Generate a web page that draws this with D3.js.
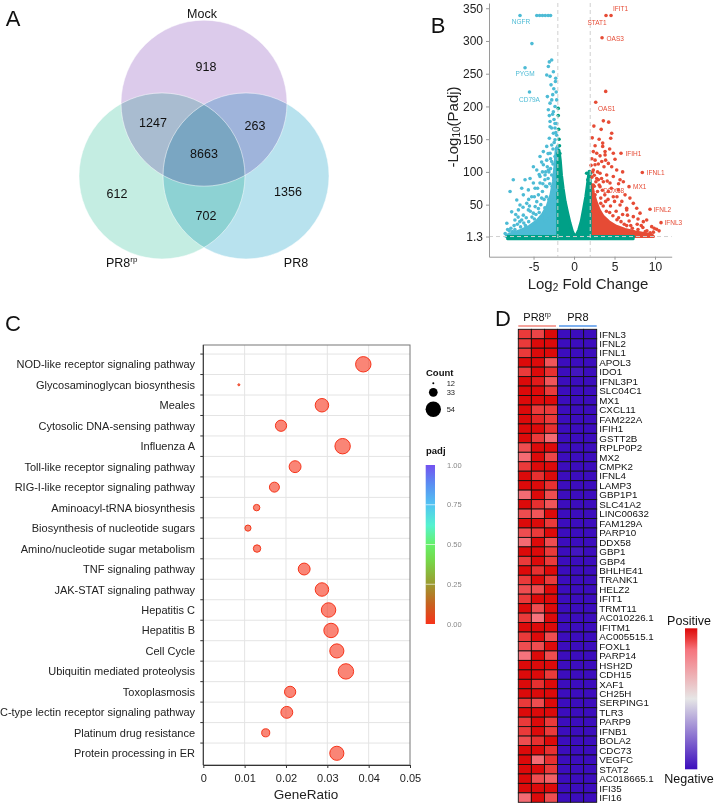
<!DOCTYPE html>
<html lang="en">
<head>
<meta charset="UTF-8">
<title>PR8 vs PR8rp transcriptome</title>
<script src="https://d3js.org/d3.v7.min.js"></script>
<style>
  body { margin: 0; background: #fff; }
  svg { display: block; font-family: "Liberation Sans", Arial, sans-serif; }
</style>
</head>
<body>
<svg width="720" height="804"></svg>
<script>
// ---------- data ----------
// A: Venn
const vennSets = ["Mock", "PR8rp", "PR8"];
const vennRegions = ["Mock", "Mock&PR8rp", "Mock&PR8", "all", "PR8rp", "PR8rp&PR8", "PR8"];
const vennCounts = [918, 1247, 263, 8663, 612, 702, 1356];

// B: volcano (log2FC, -log10 padj)
const volcanoXTicks = [-5, 0, 5, 10];
const volcanoYTicks = [1.3, 50, 100, 150, 200, 250, 300, 350];
const labelledGenes = [
  ["NGFR", -6.67, 339, "down"], ["PYGM", -6.05, 259, "down"], ["CD79A", -5.5, 222, "down"],
  ["STAT1", 3.95, 339, "up"], ["IFIT1", 4.57, 339, "up"], ["OAS3", 3.46, 305, "up"],
  ["OAS1", 2.68, 206.5, "up"], ["IFIH1", 5.8, 128.6, "up"], ["IFNL1", 8.43, 99, "up"],
  ["MX1", 6.79, 77.5, "up"], ["DDX58", 6.09, 85, "up"], ["IFNL2", 9.38, 43, "up"],
  ["IFNL3", 10.74, 22.5, "up"]
];
const downPoints = [
  [-4.6,339],[-4.25,339],[-3.9,339],[-3.55,339],[-3.2,339],[-2.9,339],[-5.2,296],
  [-3.05,268],[-2.76,271],[-3.17,261],[-2.55,253],[-3.37,248],[-2.96,246],[-2.26,243],[-2.3,238],
  [-2.84,233],[-3.29,215],[-2.63,218],[-2.14,210],[-2.96,205],[-2.35,200],[-3.17,195],[-2.55,192],
  [-3.05,186],[-2.47,180],[-2.14,174],[-2.96,169],[-2.35,167],[-2.96,177],[-2.35,174],[-2.76,167],
  [-2.55,159],[-2.14,156],[-3.05,151.5],[-2.35,149],[-2.76,141],[-3.37,139],[-2.14,136],[-3.79,131],
  [-2.96,128.6],[-2.35,123.5],[-4.2,123.5],[-3.37,118],[-5.02,108],[-2.76,116],[-3.79,111],[-4.6,103],
  [-3.17,103],[-5.43,90],[-4.2,93],[-3.58,95.4],[-2.76,95.4],[-7.5,88],[-6.05,88],[-5.02,83],[-4.2,83],
  [-6.46,75],[-7.9,70],[-5.64,72.5],[-4.81,75],[-6.26,65],[-5.23,62],[-7.07,57],[-4.4,65],[-3.37,77.5],
  [-5.84,52],[-6.67,49.5],[-4.6,54.6],[-6.87,42],[-7.7,39],[-5.64,42],[-6.26,34],[-8.3,21.5],[-7.3,26.6],
  [-6.46,26.6],[-5.02,37],[-3.6,88],[-3.9,70],[-4.8,47],[-5.4,40],[-3.1,100],[-4.0,60],[-5.9,30],
  [-7.0,20],[-7.8,14],[-6.9,31],[-3.5,78],[-2.5,92],[-2.9,120],[-4.4,44],[-5.2,31],[-6.2,22],[-8.0,10],[-8.5,6],
  [-2.2,120],[-2.4,100],[-2.6,112],[-2.3,88],[-2.7,78],[-2.45,70],[-3.0,82],[-3.2,90],[-2.8,60],[-3.1,58],
  [-3.4,62],[-3.7,58],[-3.3,40],[-3.6,45],[-4.1,50],[-4.3,38],[-4.7,35],[-4.9,28],[-5.6,24],[-6.0,18],
  [-6.6,16],[-7.3,12],[-7.6,9],[-4.0,30],[-3.5,25],[-3.0,30],[-2.6,40],[-2.3,55],[-2.2,72],[-2.9,105],
  [-3.3,108],[-3.9,100],[-4.5,75],[-4.9,62],[-5.6,58],[-6.3,46],[-7.2,35],[-3.85,82],[-3.2,128],[-2.6,135],
  [-2.45,145],[-2.25,160],[-2.65,188],[-2.2,222],[-2.75,210],[-2.5,227],[-8.2,12],[-7.4,18],[-6.7,24],
  [-5.5,48],[-4.3,96],[-4.0,115],[-3.5,100]
];
const upPoints = [
  [3.91,223],[3.62,178],[4.28,176],[4.65,159],[4.53,151.5],[3.54,144],[3.54,139],[2.38,131],[2.8,128.6],
  [3.83,131],[3.21,124.5],[3.83,126],[4.85,128.6],[5.06,119.4],[3.42,116],[4.24,113],[2.59,111],[3.7,108],
  [4.65,108],[2.38,103],[5.27,103],[3.21,98],[4.03,95.4],[4.85,93],[2.8,90],[5.68,88],[3.62,85],[4.44,83],
  [2.38,80],[3.21,77.5],[5.47,72.5],[4.24,70],[6.3,65],[4.85,62],[7.32,52],[6.5,44.5],[6.5,42],[8.15,37],
  [7.74,44.5],[5.68,49.5],[8.97,26.6],[8.56,24],[7.32,31.7],[9.59,16.4],[10.2,12.4],[2.5,95],[2.9,70],
  [3.3,60],[3.9,55],[4.5,48],[5.2,40],[6.0,35],[5.5,30],[6.8,25],[7.8,20],[8.5,15],[6.2,20],[3.0,88],
  [2.2,92],[2.6,65],[4.0,40],[5.0,55],[7.0,18],[9.0,10],[9.8,8],
  [2.1,110],[2.2,120],[2.6,118],[2.3,100],[2.7,85],[2.5,78],[3.1,80],[3.4,90],[2.9,100],[3.5,72],
  [3.8,65],[3.3,52],[3.6,48],[4.2,58],[4.4,38],[4.8,33],[5.3,27],[5.8,24],[6.5,18],[7.2,14],[7.9,12],
  [8.8,9],[9.4,7],[2.8,45],[3.2,35],[2.4,50],[2.3,40],[4.6,75],[5.3,62],[5.9,55],[6.6,34],[4.1,86],
  [3.0,112],[2.6,140],[3.1,150],[2.25,152],[3.35,165],[6.0,100],[5.5,82],[6.9,60],[7.9,28],[8.3,18],
  [10.5,10],[9.9,14],[3.9,118],[4.4,135],[2.45,170]
];
const nsPoints = [
  [-1.95,197],[-1.95,186],[-1.9,165],[-1.85,150],[-1.8,140],[-1.75,128],[1.56,98],[1.89,100.5],
  [1.98,98],[1.7,88],[1.85,90],[7.3,0.8],[-7.5,0.3],[-8.0,0.6],[5.5,0.5],[-6,0.2],[3.5,0.4]
];
// outlines of the saturated point clouds
const nsCloud = [[-8.2,-2],[-8.2,1.3],[-2,1.3],[-2,128],[-1.85,133],[-1.7,118],[-1.55,95],[-1.35,75],
  [-1.1,55],[-0.8,38],[-0.5,22],[-0.2,9],[0.05,3],[0.3,4],[0.6,12],[0.9,25],[1.2,45],[1.45,62],[1.65,80],
  [1.8,95],[1.95,100],[2,85],[2,1.3],[7.3,1.3],[7.3,-2]];
const downCloud = [[-8.4,1.3],[-8.3,3.5],[-7.5,7],[-6.5,11],[-5.5,17],[-4.6,25],[-3.9,35],[-3.3,48],
  [-2.85,65],[-2.55,85],[-2.35,110],[-2.2,135],[-2,140],[-2,1.3]];
const upCloud = [[2,1.3],[2,82],[2.2,80],[2.4,68],[2.7,55],[3.1,42],[3.6,32],[4.3,24],[5.2,17],
  [6.3,12],[7.5,8.5],[8.6,6],[9.6,4],[9.8,1.3]];

// C: KEGG enrichment
const pathways = [
  "NOD-like receptor signaling pathway", "Glycosaminoglycan biosynthesis", "Meales",
  "Cytosolic DNA-sensing pathway", "Influenza A", "Toll-like receptor signaling pathway",
  "RIG-I-like receptor signaling pathway", "Aminoacyl-tRNA biosynthesis",
  "Biosynthesis of nucleotide sugars", "Amino/nucleotide sugar metabolism", "TNF signaling pathway",
  "JAK-STAT signaling pathway", "Hepatitis C", "Hepatitis B", "Cell Cycle",
  "Ubiquitin mediated proteolysis", "Toxoplasmosis", "C-type lectin receptor signaling pathway",
  "Platinum drug resistance", "Protein processing in ER"
];
const geneRatio = [0.0387, 0.0086, 0.0287, 0.0188, 0.0337, 0.0222, 0.0172, 0.0129, 0.0108, 0.013,
  0.0244, 0.0287, 0.0303, 0.0309, 0.0323, 0.0345, 0.021, 0.0202, 0.0151, 0.0323];
const geneCount = [54, 12, 48, 41, 54, 43, 37, 26, 25, 29, 43, 48, 51, 51, 50, 54, 41, 43, 31, 50];
const padjValues = [0.001, 0.02, 0.002, 0.003, 0.001, 0.002, 0.004, 0.01, 0.012, 0.008, 0.002, 0.002,
  0.001, 0.001, 0.002, 0.001, 0.003, 0.003, 0.006, 0.002];
const ratioTicks = [0, 0.01, 0.02, 0.03, 0.04, 0.05];
const countLegend = [12, 33, 54];
const padjTicks = [0, 0.25, 0.5, 0.75, 1];

// D: heatmap (row z-score)
const genes = ["IFNL3","IFNL2","IFNL1","APOL3","IDO1","IFNL3P1","SLC04C1","MX1","CXCL11","FAM222A",
  "IFIH1","GSTT2B","RPLP0P2","MX2","CMPK2","IFNL4","LAMP3","GBP1P1","SLC41A2","LINC00632",
  "FAM129A","PARP10","DDX58","GBP1","GBP4","BHLHE41","TRANK1","HELZ2","IFIT1","TRMT11",
  "AC010226.1","IFITM1","AC005515.1","FOXL1","PARP14","HSH2D","CDH15","XAF1","CH25H","SERPING1",
  "TLR3","PARP9","IFNB1","BOLA2","CDC73","VEGFC","STAT2","AC018665.1","IFI35","IFI16"];
const samples = ["PR8rp_1", "PR8rp_2", "PR8rp_3", "PR8_1", "PR8_2", "PR8_3"];
const pr8rp1 = [0.85,0.85,0.85,1,0.85,1,1,1,1,1, 1,1,0.8,0.72,0.85,1,1,0.72,1,0.8,
  1,0.8,0.72,1,0.85,1,0.85,0.8,0.85,1, 0.85,1,0.85,0.8,0.7,1,1,1,1,0.85, 1,0.85,0.85,0.8,1,1,1,1,1,0.72];
const pr8rp2 = [0.82,1,1,1,1,0.95,1,1,0.85,0.92, 1,0.85,1,1,1,0.88,1,1,0.88,0.78,
  1,0.85,1,1,1,0.88,1,0.8,1,0.8, 0.7,1,1,0.8,1,1,1,0.88,1,0.8, 1,1,1,0.88,1,0.72,1,0.8,1,1];
const pr8rp3 = [1,1,1,0.78,0.88,0.78,0.85,1,0.85,0.85, 0.88,0.72,1,0.82,1,1,0.88,0.8,0.78,1,
  0.85,1,0.8,0.85,0.85,1,0.85,1,1,1, 1,1,0.8,1,0.8,1,0.85,1,1,1, 1,0.85,0.85,1,0.88,0.88,0.85,0.75,1,0.8];
const pr8a = [-1,-1,-1,-1,-1,-1,-1,-1,-1,-1, -1,-1,-1,-1,-1,-1,-1,-1,-1,-1,
  -1,-1,-1,-1,-1,-1,-1,-1,-1,-1, -1,-1,-1,-1,-1,-1,-1,-1,-1,-1, -1,-1,-1,-1,-1,-1,-1,-1,-1,-1];
const pr8b = [-1,-1,-1,-1,-0.96,-1,-1,-1,-1,-1, -1,-1,-1,-1,-1,-1,-1,-1,-1,-1,
  -1,-1,-1,-0.96,-1,-1,-1,-1,-1,-1, -1,-1,-1,-1,-1,-1,-1,-1,-1,-1, -1,-1,-1,-1,-1,-1,-1,-1,-1,-1];
const pr8c = [-1,-1,-1,-1,-1,-1,-1,-1,-1,-1, -1,-1,-1,-1,-1,-1,-1,-1,-1,-1,
  -1,-1,-1,-1,-1,-1,-1,-1,-1,-1, -1,-1,-1,-1,-1,-1,-1,-1,-1,-1, -1,-1,-1,-1,-1,-1,-1,-1,-1,-1];

// ---------- drawing ----------
const svg = d3.select("svg");
const FONT = '"Liberation Sans", Arial, sans-serif';

function panelLetter(t, x, y) {
  svg.append("text").attr("x", x).attr("y", y).attr("text-anchor", "middle")
    .attr("dominant-baseline", "central").attr("font-size", 22).attr("fill", "#111").text(t);
}
function styleAxis(g, line, text, size) {
  g.attr("font-family", FONT).attr("font-size", size);
  g.select(".domain").attr("stroke", line);
  g.selectAll(".tick line").attr("stroke", line);
  g.selectAll(".tick text").attr("fill", text);
}

// ===== A: Venn =====
panelLetter("A", 13, 18);
const venn = svg.append("g");
const vennCentroid = [204, 151.7], vennR = 83, vennSpread = 48.5;
const vennAngles = { "Mock": 0, "PR8rp": 240, "PR8": 120 };
const vennFill = { "Mock": "#dccbeb", "PR8rp": "#c4ede2", "PR8": "#b8e2ee" };
const vennPos = s => {
  const a = vennAngles[s] * Math.PI / 180;
  return [vennCentroid[0] + vennSpread * Math.sin(a), vennCentroid[1] - vennSpread * Math.cos(a)];
};
venn.selectAll("circle").data(vennSets).join("circle")
  .attr("cx", d => vennPos(d)[0]).attr("cy", d => vennPos(d)[1]).attr("r", vennR)
  .attr("fill", d => vennFill[d]).style("mix-blend-mode", "multiply");
venn.selectAll("circle.edge").data(vennSets).join("circle").attr("class", "edge")
  .attr("cx", d => vennPos(d)[0]).attr("cy", d => vennPos(d)[1]).attr("r", vennR)
  .attr("fill", "none").attr("stroke", "#fff").attr("stroke-opacity", 0.5).attr("stroke-width", 1);

const regionOffset = {
  "Mock": [2, -85], "Mock&PR8rp": [-51, -29], "Mock&PR8": [51, -26], "all": [0, 2],
  "PR8rp": [-87, 42], "PR8rp&PR8": [2, 64], "PR8": [84, 40]
};
venn.selectAll("text.count").data(vennRegions).join("text").attr("class", "count")
  .attr("x", d => vennCentroid[0] + regionOffset[d][0])
  .attr("y", d => vennCentroid[1] + regionOffset[d][1])
  .attr("text-anchor", "middle").attr("dominant-baseline", "central")
  .attr("font-size", 12.5).attr("fill", "#111")
  .text((d, i) => vennCounts[i]);

const setLabelOffset = { "Mock": [-2, -137.4], "PR8rp": [-82.3, 111.6], "PR8": [92, 111.6] };
vennSets.forEach(s => {
  const t = venn.append("text")
    .attr("x", vennCentroid[0] + setLabelOffset[s][0])
    .attr("y", vennCentroid[1] + setLabelOffset[s][1])
    .attr("text-anchor", "middle").attr("dominant-baseline", "central")
    .attr("font-size", 12.5).attr("fill", "#111");
  if (s === "PR8rp") {
    t.append("tspan").text("PR8");
    t.append("tspan").attr("font-size", 8).attr("dy", -4).text("rp");
  } else t.text(s);
});

// ===== B: volcano =====
panelLetter("B", 438, 25);
const vx = d3.scaleLinear().domain([-10.5, 12.06]).range([489, 671.7]);
const vy = d3.scaleLinear().domain([-29.5, 358]).range([256.7, 3]);
const vol = svg.append("g");
const colUp = "#e64b35", colDown = "#4dbbd5", colNs = "#00a087";

const cloudLine = d3.line().x(d => vx(d[0])).y(d => vy(d[1]));
[[downCloud, colDown], [upCloud, colUp], [nsCloud, colNs]].forEach(([pts, c]) => {
  vol.append("path").attr("d", cloudLine(pts) + "Z")
    .attr("fill", c).attr("stroke", c).attr("stroke-width", 3).attr("stroke-linejoin", "round");
});
[[downPoints, colDown], [upPoints, colUp], [nsPoints, colNs]].forEach(([pts, c]) => {
  vol.append("g").selectAll("circle").data(pts).join("circle")
    .attr("cx", d => vx(d[0])).attr("cy", d => vy(d[1])).attr("r", 1.8).attr("fill", c);
});

// threshold lines
vol.selectAll("line.vthr").data([-2, 2]).join("line").attr("class", "vthr")
  .attr("x1", d => vx(d)).attr("x2", d => vx(d)).attr("y1", vy.range()[1]).attr("y2", vy.range()[0])
  .attr("stroke", "#d0d0d0").attr("stroke-dasharray", "4,3");
vol.append("line").attr("x1", vx.range()[0]).attr("x2", vx.range()[1])
  .attr("y1", vy(1.3)).attr("y2", vy(1.3))
  .attr("stroke", "#d0d0d0").attr("stroke-dasharray", "4,3");

// labelled genes
const labelNudge = {
  NGFR: [1, 6.5, "middle"], PYGM: [0, 6, "middle"], CD79A: [0, 7, "middle"],
  STAT1: [-9, 7, "middle"], IFIT1: [9.5, -7, "middle"], OAS3: [4.5, 0.5, "start"],
  OAS1: [11, 6, "middle"], IFIH1: [4.5, 0, "start"], IFNL1: [4.5, 0, "start"],
  MX1: [4, 0, "start"], DDX58: [-9.6, 9, "middle"], IFNL2: [3.5, 0, "start"], IFNL3: [3.5, 0, "start"]
};
labelledGenes.forEach(([name, lx, ly, dir]) => {
  const c = dir === "up" ? colUp : colDown;
  vol.append("circle").attr("cx", vx(lx)).attr("cy", vy(ly)).attr("r", 1.8).attr("fill", c);
  const n = labelNudge[name];
  vol.append("text").attr("x", vx(lx) + n[0]).attr("y", vy(ly) + n[1])
    .attr("text-anchor", n[2]).attr("dominant-baseline", "central")
    .attr("font-size", 6.5).attr("fill", c).text(name);
});

const vxAxis = vol.append("g").attr("transform", `translate(0,${vy.range()[0]})`)
  .call(d3.axisBottom(vx).tickValues(volcanoXTicks).tickSize(3).tickSizeOuter(0).tickPadding(3)
    .tickFormat(d => d));
styleAxis(vxAxis, "#9a9a9a", "#222", 12);
const vyAxis = vol.append("g").attr("transform", `translate(${vx.range()[0]},0)`)
  .call(d3.axisLeft(vy).tickValues(volcanoYTicks).tickSize(3).tickSizeOuter(0).tickPadding(3)
    .tickFormat(d => d));
styleAxis(vyAxis, "#9a9a9a", "#222", 12);

const yTitle = vol.append("text").attr("transform", "translate(452,127) rotate(-90)")
  .attr("text-anchor", "middle").attr("dominant-baseline", "central")
  .attr("font-size", 15).attr("fill", "#222");
yTitle.append("tspan").text("-Log");
yTitle.append("tspan").attr("font-size", 10).attr("dy", 4).text("10");
yTitle.append("tspan").attr("dy", -4).text("(Padj)");
const xTitle = vol.append("text").attr("x", 588).attr("y", 283)
  .attr("text-anchor", "middle").attr("dominant-baseline", "central")
  .attr("font-size", 15).attr("fill", "#222");
xTitle.append("tspan").text("Log");
xTitle.append("tspan").attr("font-size", 10).attr("dy", 4).text("2");
xTitle.append("tspan").attr("dy", -4).text(" Fold Change");

// ===== C: KEGG dot plot =====
panelLetter("C", 13, 323);
const dot = svg.append("g");
const cx = d3.scaleLinear().domain([0, 0.05]).range([203.3, 410]);
const cy = d3.scalePoint().domain(pathways).range([364.3, 753.3]);
const cTop = 345, cBottom = 765;
const step = cy.step();
const rSize = d3.scaleLinear().domain([12, 54]).range([1, 7.7]);
const padjColor = d3.scaleLinear()
  .domain([0, 0.12, 0.25, 0.4, 0.5, 0.62, 0.75, 0.88, 1])
  .range(["#f7331a", "#c9601f", "#9c9a30", "#76d84a", "#66f06a", "#55f2cf", "#52c4f2", "#5a8ef2", "#7352f0"]);

// grid
dot.selectAll("line.vg").data(ratioTicks.slice(1, -1)).join("line").attr("class", "vg")
  .attr("x1", d => cx(d)).attr("x2", d => cx(d)).attr("y1", cTop).attr("y2", cBottom)
  .attr("stroke", "#e4e4e4").attr("stroke-width", 1);
dot.selectAll("line.hg").data(pathways).join("line").attr("class", "hg")
  .attr("x1", cx.range()[0]).attr("x2", cx.range()[1])
  .attr("y1", d => cy(d) - step / 2).attr("y2", d => cy(d) - step / 2)
  .attr("stroke", "#e4e4e4").attr("stroke-width", 1);
dot.append("rect").attr("x", cx.range()[0]).attr("y", cTop)
  .attr("width", cx.range()[1] - cx.range()[0]).attr("height", cBottom - cTop)
  .attr("fill", "none").attr("stroke", "#777").attr("stroke-width", 1);
// y ticks between rows
dot.selectAll("line.yt").data(pathways).join("line").attr("class", "yt")
  .attr("x1", cx.range()[0] - 3).attr("x2", cx.range()[0])
  .attr("y1", d => cy(d) - step / 2).attr("y2", d => cy(d) - step / 2)
  .attr("stroke", "#333");
dot.append("line").attr("x1", cx.range()[0]).attr("x2", cx.range()[0])
  .attr("y1", cTop).attr("y2", cBottom).attr("stroke", "#333");
dot.selectAll("text.path").data(pathways).join("text").attr("class", "path")
  .attr("x", 195).attr("y", d => cy(d)).attr("text-anchor", "end").attr("dominant-baseline", "central")
  .attr("font-size", 11).attr("fill", "#222").text(d => d);

const cxAxis = dot.append("g").attr("transform", `translate(0,${cBottom})`)
  .call(d3.axisBottom(cx).tickValues(ratioTicks).tickSize(3).tickSizeOuter(0).tickPadding(6)
    .tickFormat(d => d));
styleAxis(cxAxis, "#333", "#222", 11);
dot.append("text").attr("x", 306).attr("y", 794).attr("text-anchor", "middle")
  .attr("dominant-baseline", "central").attr("font-size", 13.5).attr("fill", "#222").text("GeneRatio");

dot.append("g").selectAll("circle").data(pathways).join("circle")
  .attr("cx", (d, i) => cx(geneRatio[i])).attr("cy", d => cy(d))
  .attr("r", (d, i) => rSize(geneCount[i]))
  .attr("fill", (d, i) => padjColor(padjValues[i])).attr("fill-opacity", 0.6)
  .attr("stroke", (d, i) => padjColor(padjValues[i])).attr("stroke-width", 1);

// size legend
dot.append("text").attr("x", 426).attr("y", 372.7).attr("dominant-baseline", "central")
  .attr("font-size", 9.5).attr("font-weight", "bold").attr("fill", "#111").text("Count");
const legY = [383.3, 392.3, 409.3];
countLegend.forEach((c, i) => {
  dot.append("circle").attr("cx", 433.3).attr("cy", legY[i]).attr("r", rSize(c)).attr("fill", "#000");
  dot.append("text").attr("x", 446.7).attr("y", legY[i]).attr("dominant-baseline", "central")
    .attr("font-size", 7.5).attr("fill", "#222").text(c);
});
// colour bar
dot.append("text").attr("x", 426).attr("y", 450).attr("dominant-baseline", "central")
  .attr("font-size", 9.5).attr("font-weight", "bold").attr("fill", "#111").text("padj");
const cb = d3.scaleLinear().domain([0, 1]).range([624, 465]);
const grad = svg.append("defs").append("linearGradient").attr("id", "padjGrad")
  .attr("x1", 0).attr("y1", 1).attr("x2", 0).attr("y2", 0);
padjColor.domain().forEach((v, i) => grad.append("stop").attr("offset", v).attr("stop-color", padjColor.range()[i]));
dot.append("rect").attr("x", 425.7).attr("y", cb(1)).attr("width", 9.3).attr("height", cb(0) - cb(1))
  .attr("fill", "url(#padjGrad)");
dot.selectAll("line.cbt").data(padjTicks.slice(1, -1)).join("line").attr("class", "cbt")
  .attr("x1", 425.7).attr("x2", 435).attr("y1", d => cb(d)).attr("y2", d => cb(d))
  .attr("stroke", "#fff").attr("stroke-opacity", 0.8).attr("stroke-width", 0.8);
dot.selectAll("text.cbl").data(padjTicks).join("text").attr("class", "cbl")
  .attr("x", 447).attr("y", d => cb(d)).attr("dominant-baseline", "central")
  .attr("font-size", 7.5).attr("fill", "#888").text(d => d3.format(".2f")(d));

// ===== D: heatmap =====
panelLetter("D", 503, 318);
const hm = svg.append("g");
const hx = d3.scaleBand().domain(samples).range([518.3, 596.7]);
const hy = d3.scaleBand().domain(genes).range([329.3, 802.3]);
const heatColor = d3.scaleLinear().domain([-1, 0, 0.7, 0.85, 1])
  .range(["#3c0dbd", "#e6e6e6", "#f6737c", "#ea3a3a", "#dc0a0a"]);
const sampleValues = [pr8rp1, pr8rp2, pr8rp3, pr8a, pr8b, pr8c];
const cells = [];
samples.forEach((s, j) => genes.forEach((g, i) => cells.push({ s, g, v: sampleValues[j][i] })));
hm.selectAll("rect.cell").data(cells).join("rect").attr("class", "cell")
  .attr("x", d => hx(d.s)).attr("y", d => hy(d.g))
  .attr("width", hx.bandwidth()).attr("height", hy.bandwidth())
  .attr("fill", d => heatColor(d.v)).attr("stroke", "#111").attr("stroke-width", 0.9);
hm.selectAll("text.gene").data(genes).join("text").attr("class", "gene")
  .attr("x", 599.3).attr("y", d => hy(d) + hy.bandwidth() / 2).attr("dominant-baseline", "central")
  .attr("font-size", 9.8).attr("fill", "#111").text(d => d);

// group header
const groups = [["PR8rp", samples.slice(0, 3), "#f4a39c"], ["PR8", samples.slice(3), "#7eb0ee"]];
groups.forEach(([name, ss, c], k) => {
  const x0 = hx(ss[0]) + (k ? 1.5 : 0), x1 = hx(ss[2]) + hx.bandwidth() - (k ? 0 : 1.5);
  hm.append("rect").attr("x", x0).attr("y", 325).attr("width", x1 - x0).attr("height", 2).attr("fill", c);
  const t = hm.append("text").attr("x", (x0 + x1) / 2).attr("y", 316.7)
    .attr("text-anchor", "middle").attr("dominant-baseline", "central")
    .attr("font-size", 11).attr("fill", "#111");
  if (name === "PR8rp") {
    t.append("tspan").text("PR8");
    t.append("tspan").attr("font-size", 7).attr("dy", -3).text("rp");
  } else t.text(name);
});

// heat legend
const hg = svg.select("defs").append("linearGradient").attr("id", "heatGrad")
  .attr("x1", 0).attr("y1", 1).attr("x2", 0).attr("y2", 0);
heatColor.domain().forEach((v, i) => hg.append("stop").attr("offset", (v + 1) / 2).attr("stop-color", heatColor.range()[i]));
hm.append("rect").attr("x", 685).attr("y", 628.3).attr("width", 12.3).attr("height", 141)
  .attr("fill", "url(#heatGrad)");
hm.append("text").attr("x", 689).attr("y", 620.7).attr("text-anchor", "middle")
  .attr("dominant-baseline", "central").attr("font-size", 12.5).attr("fill", "#111").text("Positive");
hm.append("text").attr("x", 689).attr("y", 779.3).attr("text-anchor", "middle")
  .attr("dominant-baseline", "central").attr("font-size", 12.5).attr("fill", "#111").text("Negative");
</script>
</body>
</html>
